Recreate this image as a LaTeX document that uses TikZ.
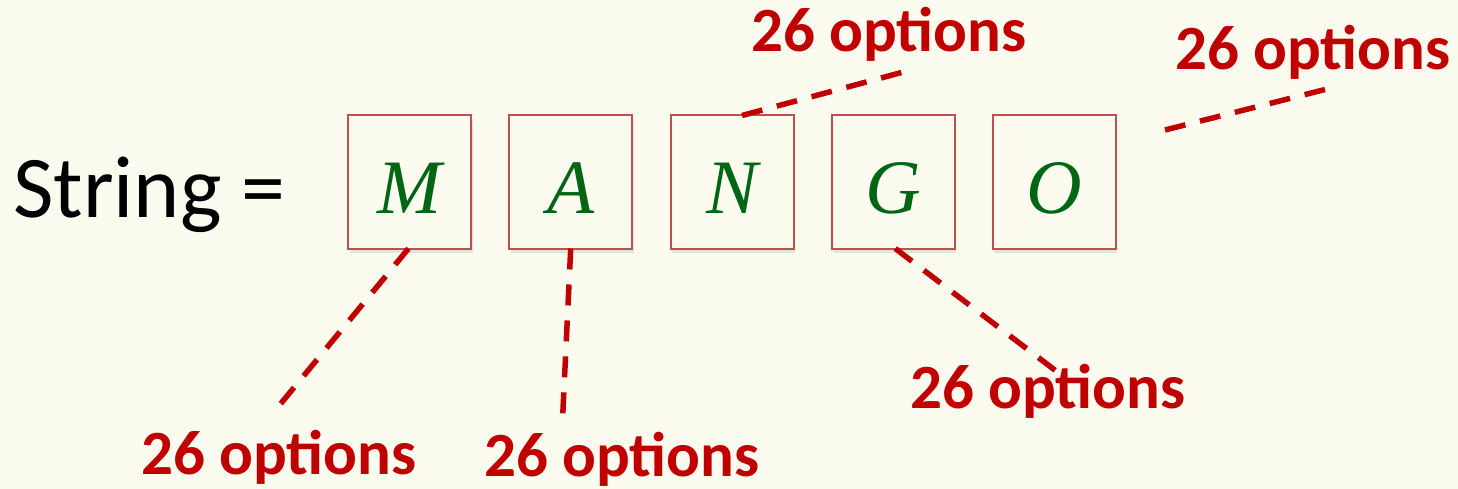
\documentclass[tikz,border=0pt]{standalone}
\usepackage{fontspec}
\setmainfont{Carlito}
\newfontfamily\letterfont{Liberation Serif}
\usetikzlibrary{shadows}
\definecolor{paper}{RGB}{252,251,240}
\definecolor{boxred}{HTML}{C0504D}
\definecolor{optred}{HTML}{C00000}
\definecolor{lettergreen}{HTML}{006614}
\tikzset{
  cell/.style={draw=boxred, line width=2pt, fill=paper,
    minimum width=123pt, minimum height=133pt, inner sep=0pt,
    text height=62pt, text depth=0pt, text=lettergreen,
    font=\letterfont\itshape\fontsize{77}{80}\selectfont,
    drop shadow={opacity=0.18, shadow xshift=1.5pt, shadow yshift=-4pt}},
  optline/.style={draw=optred, line width=5.5pt, dash pattern=on 21pt off 15pt},
  optlabel/.style={text=optred, inner sep=0pt, anchor=base west,
    font=\fontsize{63}{70}\selectfont\bfseries}
}
\begin{document}
\begin{tikzpicture}[x=1pt, y=-1pt]
  % page background and frame
  \fill[paper] (0,0) rectangle (1458,489);
  \useasboundingbox (0,0) rectangle (1458,489);

  % left-hand side
  \node[anchor=base west, inner sep=0pt, font=\fontsize{88}{96}\selectfont] (lhs) at (13,218) {String =};

  % the five character cells
  \node[cell] (cm) at (409.5,182) {M};
  \node[cell] (ca) at (570.7,182) {A};
  \node[cell] (cn) at (732,182)   {N};
  \node[cell] (cg) at (893.2,182) {G};
  \node[cell] (co) at (1054.3,182) {O};

  % option labels
  \node[optlabel] (l1) at (141,474)  {26 options};
  \node[optlabel] (l2) at (484,476)  {26 options};
  \node[optlabel] (l3) at (751,52)   {26 options};
  \node[optlabel] (l4) at (1175,70)  {26 options};
  \node[optlabel] (l5) at (910,408)  {26 options};

  % free ends of the leader lines
  \coordinate (e1) at (278,407);
  \coordinate (e2) at (562.5,420);
  \coordinate (e3) at (907,71);
  \coordinate (e4) at (1060,374);
  \coordinate (f5a) at (1165,130);
  \coordinate (f5b) at (1331,88);

  % dashed leader lines
  \draw[optline] ([xshift=-1pt,yshift=1pt]cm.south) -- (e1);
  \draw[optline] ([yshift=1pt]ca.south) -- (e2);
  \draw[optline] ([xshift=10pt,yshift=-1pt]cn.north) -- (e3);
  \draw[optline] ([xshift=2pt,yshift=1pt]cg.south) -- (e4);
  \draw[optline] (f5a) -- (f5b);
\end{tikzpicture}
\end{document}
